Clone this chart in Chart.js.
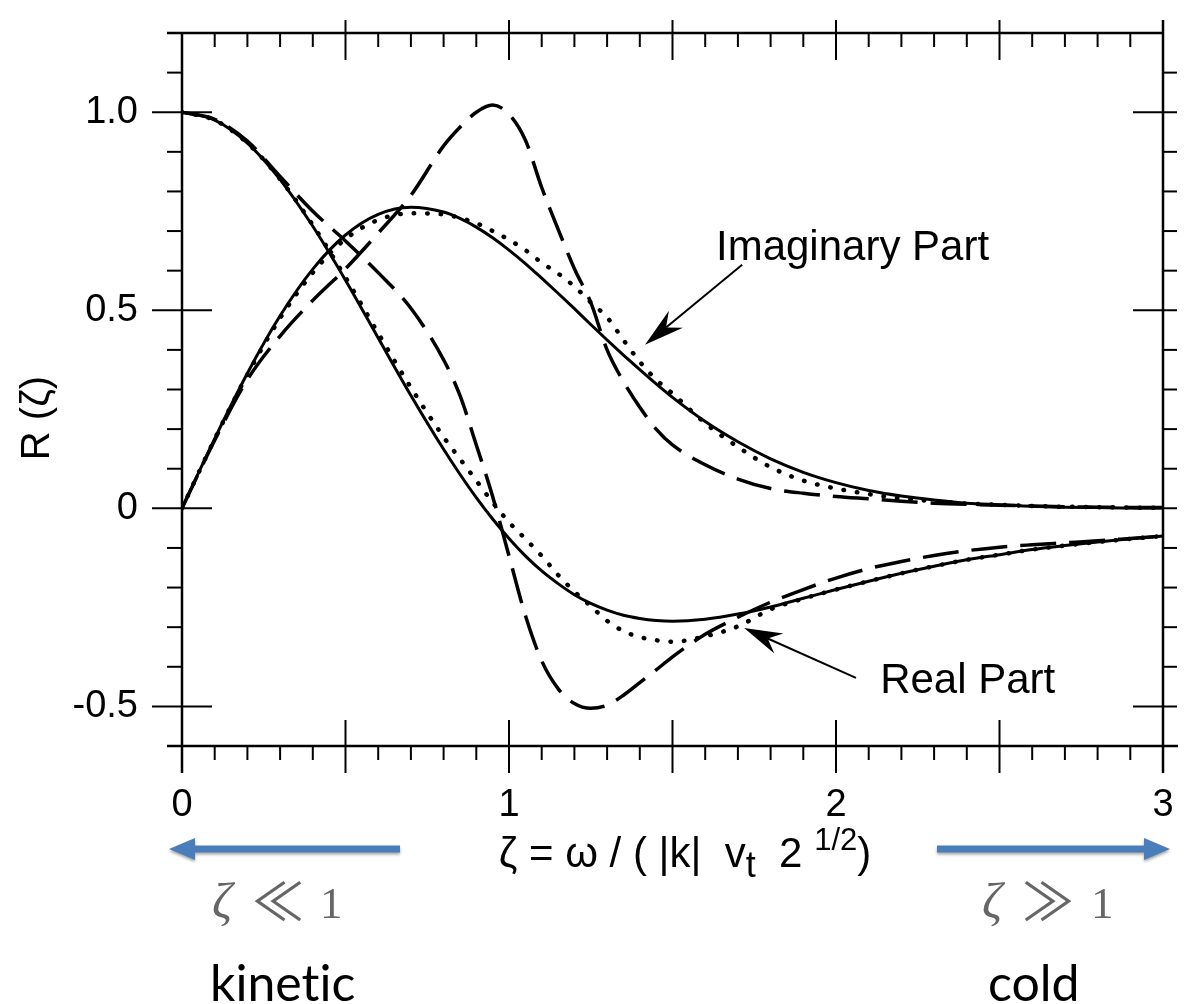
<!DOCTYPE html>
<html><head><meta charset="utf-8">
<script src="https://cdn.jsdelivr.net/npm/chart.js@4.4.1/dist/chart.umd.min.js"></script>
<style>html,body{margin:0;padding:0;background:#fff;} #wrap{width:1203px;height:1004px;position:relative;}</style>
</head><body><div id="wrap"><canvas id="c" width="1203" height="1004"></canvas></div>
<script>
// ---- data ----
const zeta = [0,0.1,0.2,0.3,0.4,0.5,0.6,0.7,0.8,0.85,0.9,0.95,1.0,1.05,1.1,1.15,1.2,1.25,1.3,1.35,1.4,1.45,1.5,1.6,1.7,1.8,1.9,2.0,2.1,2.2,2.3,2.4,2.5,2.6,2.7,2.8,2.9,3.0];
const solidReal = [1.0,0.980,0.922,0.830,0.712,0.576,0.430,0.285,0.149,0.086,0.027,-0.027,-0.076,-0.120,-0.158,-0.190,-0.218,-0.240,-0.257,-0.270,-0.278,-0.283,-0.285,-0.280,-0.267,-0.249,-0.227,-0.205,-0.184,-0.164,-0.146,-0.130,-0.117,-0.104,-0.094,-0.085,-0.077,-0.070];
const solidImag = [0,0.176,0.341,0.486,0.604,0.690,0.742,0.760,0.748,0.732,0.710,0.683,0.652,0.618,0.581,0.543,0.504,0.464,0.425,0.387,0.350,0.314,0.280,0.219,0.168,0.125,0.091,0.065,0.045,0.031,0.021,0.013,0.009,0.005,0.003,0.002,0.001,0.001];
const dashReal = [1.0,0.982,0.927,0.838,0.750,0.675,0.595,0.505,0.375,0.285,0.160,0.030,-0.120,-0.270,-0.385,-0.455,-0.493,-0.505,-0.497,-0.472,-0.440,-0.408,-0.375,-0.318,-0.275,-0.237,-0.205,-0.176,-0.152,-0.134,-0.119,-0.107,-0.098,-0.092,-0.087,-0.082,-0.076,-0.070];
const dashImag = [0,0.172,0.325,0.435,0.525,0.605,0.695,0.790,0.915,0.962,1.000,1.018,0.995,0.930,0.810,0.705,0.605,0.520,0.400,0.320,0.255,0.200,0.160,0.110,0.074,0.050,0.038,0.030,0.024,0.018,0.013,0.010,0.008,0.006,0.004,0.003,0.002,0.002];
const dotReal = [1.0,0.980,0.922,0.831,0.715,0.583,0.442,0.305,0.180,0.125,0.070,0.015,-0.035,-0.077,-0.120,-0.168,-0.210,-0.247,-0.284,-0.310,-0.325,-0.333,-0.337,-0.323,-0.298,-0.255,-0.228,-0.205,-0.184,-0.164,-0.146,-0.130,-0.117,-0.104,-0.094,-0.085,-0.077,-0.070];
const dotImag = [0,0.175,0.338,0.480,0.595,0.680,0.728,0.745,0.742,0.733,0.720,0.700,0.678,0.652,0.620,0.593,0.560,0.520,0.482,0.425,0.370,0.325,0.290,0.215,0.155,0.104,0.070,0.050,0.036,0.025,0.018,0.012,0.009,0.006,0.004,0.003,0.002,0.001];

// ---- ticks ----
const xTickValues = [0,1,2,3];
const xTickLabels = ['0','1','2','3'];
const yTickValues = [-0.5,0,0.5,1.0];
const yTickLabels = ['-0.5','0','0.5','1.0'];
const xMajorTicks = [0.5,1,1.5,2,2.5];
const xMinorTicks = [0.1,0.2,0.3,0.4,0.6,0.7,0.8,0.9,1.1,1.2,1.3,1.4,1.6,1.7,1.8,1.9,2.1,2.2,2.3,2.4,2.6,2.7,2.8,2.9];
const yMajorTicks = [-0.5,0,0.5,1.0];
const yMinorTicks = [-0.4,-0.3,-0.2,-0.1,0.1,0.2,0.3,0.4,0.6,0.7,0.8,0.9,1.1];

// ---- annotations (data coordinates) ----
const imagLabel = {text:'Imaginary Part', x:1.633, y:0.627};
const imagArrow = {from:{x:1.713,y:0.615}, tip:{x:1.416,y:0.413}};
const realLabel = {text:'Real Part', x:2.135, y:-0.466};
const realArrow = {from:{x:2.061,y:-0.428}, tip:{x:1.719,y:-0.302}};

const pts = (ys) => zeta.map((z,i)=>({x:z,y:ys[i]}));
const base = {pointRadius:0, borderColor:'#000', fill:false, cubicInterpolationMode:'monotone'};

function barbArrow(ctx,x0,y0,x1,y1,len,hw){
  const a=Math.atan2(y1-y0,x1-x0), ux=Math.cos(a), uy=Math.sin(a);
  const bx=x1-ux*len, by=y1-uy*len, nx=x1-ux*len*0.68, ny=y1-uy*len*0.68;
  ctx.beginPath(); ctx.moveTo(x0,y0); ctx.lineTo(nx,ny); ctx.stroke();
  ctx.beginPath(); ctx.moveTo(x1,y1);
  ctx.lineTo(bx-uy*hw, by+ux*hw); ctx.lineTo(nx,ny); ctx.lineTo(bx+uy*hw, by-ux*hw);
  ctx.closePath(); ctx.fill();
}
function blockArrow(ctx,x0,x1,y,th,headLen,headHw){
  const dir=Math.sign(x1-x0);
  const hb=x1-dir*headLen;
  ctx.beginPath();
  ctx.moveTo(x0,y-th/2); ctx.lineTo(hb,y-th/2); ctx.lineTo(hb,y-headHw); ctx.lineTo(x1,y);
  ctx.lineTo(hb,y+headHw); ctx.lineTo(hb,y+th/2); ctx.lineTo(x0,y+th/2); ctx.closePath(); ctx.fill();
}

const framePlugin = {
  id:'frame',
  afterDatasetsDraw(chart){
    const {ctx, chartArea:a, scales:{x,y}} = chart;
    const L=(x0,y0,x1,y1)=>{ctx.beginPath();ctx.moveTo(x0,y0);ctx.lineTo(x1,y1);ctx.stroke();};
    ctx.save(); ctx.strokeStyle='#000'; ctx.lineCap='butt';
    ctx.lineWidth=2.5;
    L(a.left-15,a.top,a.right,a.top);
    L(a.left-15,a.bottom,a.right+15,a.bottom);
    L(a.left,a.top,a.left,a.bottom+27);
    L(a.right,a.top-13,a.right,a.bottom+27);
    ctx.lineWidth=2;
    xMinorTicks.forEach(v=>{const p=x.getPixelForValue(v); L(p,a.top,p,a.top+14); L(p,a.bottom,p,a.bottom+14);});
    xMajorTicks.forEach(v=>{const p=x.getPixelForValue(v); L(p,a.top-13,p,a.top+27); L(p,a.bottom-26,p,a.bottom+27);});
    yMinorTicks.forEach(v=>{const p=y.getPixelForValue(v); L(a.left-15,p,a.left,p); L(a.right,p,a.right+14,p);});
    yMajorTicks.forEach(v=>{const p=y.getPixelForValue(v); L(a.left-30,p,a.left+30,p); L(a.right-30,p,a.right+14,p);});
    // in-plot annotations
    ctx.fillStyle='#000'; ctx.lineWidth=2;
    [imagArrow, realArrow].forEach((ar,i)=>{
      barbArrow(ctx, x.getPixelForValue(ar.from.x), y.getPixelForValue(ar.from.y),
        x.getPixelForValue(ar.tip.x), y.getPixelForValue(ar.tip.y), i===0?40:38, 11);
    });
    ctx.font='42px "Liberation Sans", Arial, sans-serif'; ctx.textBaseline='alphabetic'; ctx.textAlign='left';
    [imagLabel, realLabel].forEach(l=>ctx.fillText(l.text, x.getPixelForValue(l.x), y.getPixelForValue(l.y)));
    ctx.restore();
  },
  afterDraw(chart){
    const ctx=chart.ctx; ctx.save();
    // y axis title
    ctx.fillStyle='#000';
    ctx.translate(38,418); ctx.rotate(-Math.PI/2);
    ctx.font='40px "Liberation Sans", Arial, sans-serif'; ctx.textAlign='center'; ctx.textBaseline='middle';
    ctx.fillText('R (\u03B6)',0,0);
    ctx.setTransform(1,0,0,1,0,0);
    // x axis title with sub/superscript
    const parts=[
      {t:'\u03B6 = \u03C9 / ( |k|  v', f:42, dy:0},
      {t:'t', f:36, dy:10},
      {t:'  2 ', f:42, dy:0},
      {t:'1/2', f:31, dy:-17},
      {t:')', f:42, dy:0}
    ];
    let total=0;
    parts.forEach(p=>{ctx.font=p.f+'px "Liberation Sans", Arial, sans-serif'; p.w=ctx.measureText(p.t).width; total+=p.w;});
    let cx=685-total/2; const by=867;
    ctx.textAlign='left'; ctx.textBaseline='alphabetic';
    parts.forEach(p=>{ctx.font=p.f+'px "Liberation Sans", Arial, sans-serif'; ctx.fillText(p.t,cx,by+p.dy); cx+=p.w;});
    // blue arrows
    ctx.save();
    ctx.fillStyle='#4a7ebb'; ctx.shadowColor='rgba(0,0,0,0.35)'; ctx.shadowBlur=3; ctx.shadowOffsetY=2;
    blockArrow(ctx,400,169,849,7,26,11);
    blockArrow(ctx,937,1170,849,7,26,11);
    ctx.restore();
    // regime labels
    ctx.textAlign='left';
    const drawMath=(x0,xr,x1,rel)=>{
      ctx.fillStyle='#666';
      ctx.font='italic 50px "Liberation Serif", "DejaVu Serif", serif'; ctx.fillText('\u03B6',x0,918);
      ctx.font='52px "Noto Sans CJK JP", "DejaVu Serif", serif'; ctx.fillText(rel,xr,921);
      ctx.font='45px "Liberation Serif", "DejaVu Serif", serif'; ctx.fillText('1',x1,918);
    };
    drawMath(212,252,320,'\u226A');
    drawMath(982,1022,1091,'\u226B');
    ctx.fillStyle='#000';
    ctx.font='50px Lato, "Open Sans", sans-serif';
    ctx.fillText('kinet\u200Cic',210,1001);
    ctx.fillText('cold',988,1001);
    ctx.restore();
  }
};

new Chart(document.getElementById('c'), {
  type:'line',
  data:{datasets:[
    {...base, label:'Re exact', data:pts(solidReal), borderWidth:3},
    {...base, label:'Im exact', data:pts(solidImag), borderWidth:3},
    {...base, label:'Re dashed', data:pts(dashReal), borderWidth:3.5, borderDash:[36,13]},
    {...base, label:'Im dashed', data:pts(dashImag), borderWidth:3.5, borderDash:[36,13]},
    {...base, label:'Re dotted', data:pts(dotReal), borderWidth:4.5, borderDash:[0.5,13], borderCapStyle:'round'},
    {...base, label:'Im dotted', data:pts(dotImag), borderWidth:4.5, borderDash:[0.5,13], borderCapStyle:'round'}
  ]},
  options:{
    responsive:false, animation:false, devicePixelRatio:1,
    layout:{padding:{top:33,right:40,left:0,bottom:0}},
    plugins:{legend:{display:false}, tooltip:{enabled:false}},
    scales:{
      x:{type:'linear', min:0, max:3,
        grid:{display:false}, border:{display:false},
        afterBuildTicks:(s)=>{s.ticks=xTickValues.map(v=>({value:v}));},
        afterFit:(s)=>{s.height=258; s.paddingLeft=0; s.paddingRight=0;},
        ticks:{padding:29, color:'#000', maxRotation:0, autoSkip:false,
          font:{family:'"Liberation Sans", Arial, sans-serif', size:38},
          callback:(v)=>xTickLabels[xTickValues.indexOf(v)] ?? ''}},
      y:{type:'linear', min:-0.6, max:1.2,
        grid:{display:false}, border:{display:false},
        afterBuildTicks:(s)=>{s.ticks=yTickValues.map(v=>({value:v}));},
        afterFit:(s)=>{s.width=182; s.paddingTop=0; s.paddingBottom=0;},
        ticks:{padding:36, color:'#000', autoSkip:false,
          font:{family:'"Liberation Sans", Arial, sans-serif', size:38},
          callback:(v)=>yTickLabels[yTickValues.indexOf(v)] ?? ''}}
    }
  },
  plugins:[framePlugin]
});
</script></body></html>
